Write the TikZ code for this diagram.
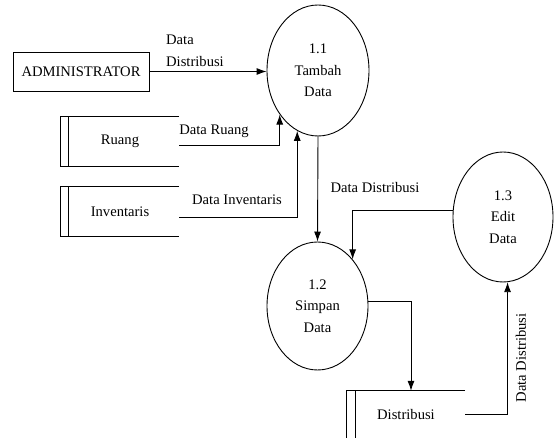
\documentclass[tikz,border=0pt]{standalone}
\usepackage{fontspec}
\setmainfont{Liberation Serif}
\usetikzlibrary{shapes.geometric,arrows.meta}

\tikzset{
  txt/.style={font=\fontsize{14.6}{21.5}\selectfont, align=center, inner sep=0pt},
  proc/.style={txt, draw, ellipse, line width=0.9pt},
  entity/.style={txt, draw, line width=0.9pt, minimum width=136pt, minimum height=39pt},
  store/.style={txt, minimum width=118pt},
  flow/.style={line width=0.9pt, -{Latex[length=10pt,width=7pt]}}
}

\begin{document}
\begin{tikzpicture}[x=1pt, y=-1pt]

  \useasboundingbox (0,0) rectangle (555,438);

  % --- External entity ---
  \node[entity] (admin) at (81,71.5) {ADMINISTRATOR};

  % --- Processes ---
  \node[proc, minimum width=102pt, minimum height=131pt] (p11) at (318,70.5) {1.1\\Tambah\\Data};
  \node[proc, minimum width=101pt, minimum height=128pt] (p12) at (317.5,306) {1.2\\Simpan\\Data};
  \node[proc, minimum width=100pt, minimum height=130pt] (p13) at (503,217) {1.3\\Edit\\Data};

  % --- Data stores ---
  \node[store, minimum height=49pt] (ruang) at (120,141.5) {Ruang};
  \node[store, minimum height=49pt] (inventaris) at (120,211.5) {Inventaris};
  \node[store, minimum height=47pt] (distribusi) at (406,414.5) {Distribusi};
  \foreach \s in {ruang,inventaris}{
    \draw[line width=0.9pt] (\s.north east) -- (\s.north west) -- (\s.south west) -- (\s.south east);
    \draw[line width=0.9pt] ([xshift=8pt]\s.north west) -- ([xshift=8pt]\s.south west);
  }
  \draw[line width=0.9pt] (distribusi.north east) -- (distribusi.north west) -- (distribusi.south west);
  \draw[line width=0.9pt] ([xshift=9pt]distribusi.north west) -- ([xshift=9pt]distribusi.south west);

  % --- Data flows ---
  \draw[flow] (admin.east) -- (admin.east -| p11.west);
  \draw[flow] ([yshift=-4pt]ruang.east) -| (p11.229);
  \draw[flow] ([yshift=-5.5pt]inventaris.east) -| (p11.251);
  \draw[flow] (p11.south) -- (p12.north);
  \draw[flow] (p13.173) -| (p12.53);
  \draw[flow] (p12.5) -| ([xshift=5pt]distribusi.north);
  \draw[flow] (distribusi.east) -| (p13.274);

  % --- Flow labels ---
  \node[txt, align=left, anchor=west] (lAdmin) at (166,51) {Data\\Distribusi};
  \node[txt] (lRuang) at (214,131) {Data Ruang};
  \node[txt] (lInventaris) at (237,200) {Data Inventaris};
  \node[txt] (lSimpan) at (375,188) {Data Distribusi};
  \node[txt, rotate=90] (lEdit) at (521,358) {Data Distribusi};

\end{tikzpicture}
\end{document}
